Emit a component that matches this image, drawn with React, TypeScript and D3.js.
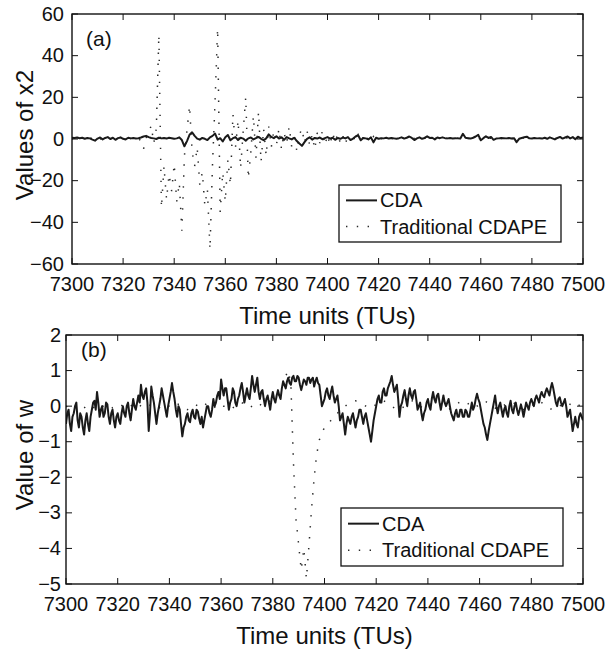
import React from 'react';
import * as d3 from 'd3';

// ---------- data ----------
const T_START = 7300; // first time unit
const STEP_A = 1; // TU between samples, panel (a) and CDAPE (b)
const STEP_B_CDA = 0.5; // TU between samples, CDA in panel (b)
const xTicks = [7300, 7320, 7340, 7360, 7380, 7400, 7420, 7440, 7460, 7480, 7500];
const yTicksA = [-60, -40, -20, 0, 20, 40, 60];
const yTicksB = [-5, -4, -3, -2, -1, 0, 1, 2];
const seriesNames = ['CDA', 'Traditional CDAPE'];

// Panel (a): values of x2 (one value per TU, 7300..7500)
const cdaA = [
  0.6, 0.5, 0.7, 0.4, 0.6, 0.1, 0.5, 0.3, -0.3, -0.8,
  0.2, 0.7, -0.2, 0.5, 0.9, 0.0, 0.6, -0.4, 0.4, 0.8,
  0.1, -0.2, 0.6, 0.3, 0.5, 0.2, 0.4, 0.7, 1.2, 1.5,
  0.9, 0.5, 0.3, 0.0, 0.6, 0.3, 0.5, 0.2, 0.6, 0.4,
  0.1, 0.3, 0.8, -0.5, -3.5, -1.0, 2.0, 3.2, 1.5, 0.2,
  -0.3, 0.5, 0.1, -0.5, 0.8, 1.5, 2.6, -0.3, 0.4, -1.2,
  0.8, 1.9, -0.6, 0.4, 0.9, -0.5, 0.6, 0.2, -0.8, 0.3,
  0.7, -0.2, 0.4, 1.0, 0.1, -0.6, 0.3, 2.2, 1.0, 0.4,
  1.3, 0.2, 0.8, -0.4, 0.9, 0.3, -0.2, 0.6, -1.0, -2.2,
  -3.3, -1.5, 0.1, 0.8, -0.3, 0.5, 0.2, 0.7, -0.1, 0.4,
  0.9, 0.2, 0.6, -0.4, 0.5, 0.1, 0.7, 0.3, 0.9, -0.5,
  0.2, 1.2, 1.8, -0.6, 0.5, 0.3, -0.2, 0.8, -1.6, 0.6,
  0.1, 0.4, 0.3, 0.6, 0.2, 0.5, 0.3, 0.1, 0.4, 0.8,
  0.2, 0.6, 1.2, 0.5, -0.5, 0.3, 0.8, 0.1, 0.5, 1.3,
  0.5, 0.6, -0.2, 0.7, 0.4, 0.8, 0.4, 0.3, 0.5, 0.2,
  0.4, 0.3, 0.2, 2.5, 0.6, 0.4, 0.2, 0.6, 1.2, 2.0,
  -0.6, 0.4, 1.3, 0.5, 1.0, -0.4, 0.2, 0.3, 0.5, 0.4,
  0.3, 0.5, 0.2, 0.4, -1.5, 0.1, 0.5, 0.8, 1.1, 0.3,
  0.2, 0.5, 0.3, 0.4, 0.2, 0.6, 0.1, 0.8, 0.3, -0.2,
  0.5, 1.0, 0.2, 0.7, 1.2, 0.3, 0.9, -0.1, 1.1, 0.4,
  0.8,
];
const cdapeA = [
  0.3, -0.4, 0.8, 0.2, 0.5, -0.6, 0.4, 0.1, 0.6, -0.3,
  0.5, 0.2, -0.4, 0.7, 0.3, 0.0, 0.5, -0.5, 0.3, 0.6,
  0.1, -0.3, 0.4, 0.2, 0.6, -0.2, 0.3, -1.0, -4.8, 0.5,
  3.0, 6.5, -2.0, 5.0, 50, -33, -13, -29, -17, -25,
  -12, -30, -21, -44, -8, 4, 16, -6, -13, -4,
  -22, -16, -32, -24, -53, -12, 18, 53, -35, -16,
  -30, -10, -22, 12, -4, 9, -14, 4, 20, -19,
  -6, 11, -9, 13, -11, 5, -8, 6, -4, 4,
  -3, 5, -5, 3, -2, 6, -4, 3, -6, 2,
  5, -2, 4, -3, 2, -5, 3, -2, 4, -3,
  2, -3, 3, -1.5, 2.5, -2, 1.5, -2.5, 2, -1,
  1.5, -1.5, 2, -1, 1, -1.5, 1, -0.8, 1.2, -0.5,
  0.4, 0.1, 0.5, 0.2, 0.4, 0.3, 0.2, 0.5, 0.1, 0.4,
  0.3, 0.5, 0.2, 0.4, 0.3, 0.2, 0.5, 0.3, 0.4, 0.2,
  0.5, 0.3, 0.2, 0.4, 0.5, 0.3, 0.4, 0.2, 0.3, 0.4,
  0.3, 0.4, 0.2, 0.5, 0.4, 0.3, 0.2, 0.4, 0.5, 0.3,
  0.2, 0.4, 0.5, 0.3, 0.4, 0.2, 0.3, 0.4, 0.3, 0.5,
  0.3, 0.4, 0.2, 0.3, 0.2, 0.3, 0.4, 0.5, 0.4, 0.3,
  0.2, 0.4, 0.3, 0.4, 0.3, 0.5, 0.2, 0.4, 0.3, 0.2,
  0.4, 0.5, 0.3, 0.4, 0.5, 0.3, 0.4, 0.2, 0.5, 0.4,
  0.4,
];

// Panel (b): value of w — CDA every 0.5 TU (7300..7500), one row = 10 TU
const cdaB = [
  -0.5, -0.2, -0.1, -0.5, -0.7, -0.3, -0.2, 0.0, 0.1, -0.4, -0.6, -0.2, -0.3, -0.6, -0.8, -0.4, -0.2, -0.5, -0.7, -0.3,
  -0.1, 0.1, 0.15, -0.1, 0.4, 0.1, -0.3, -0.1, 0.0, -0.3, -0.2, 0.1, 0.05, -0.3, -0.5, -0.2, -0.1, -0.4, -0.6, -0.3,
  -0.2, -0.4, -0.5, -0.2, 0.0, -0.2, -0.3, 0.0, 0.1, -0.2, -0.4, -0.1, 0.2, 0.0, -0.1, 0.1, 0.3, 0.1, 0.6, 0.3,
  0.2, 0.4, 0.5, 0.1, -0.7, -0.2, 0.55, 0.3, 0.1, -0.2, -0.5, -0.2, 0.0, 0.2, 0.5, 0.3, 0.1, -0.1, -0.3, 0.0,
  0.2, 0.4, 0.65, 0.4, 0.2, -0.1, -0.3, 0.0, -0.1, -0.5, -0.85, -0.6, -0.5, -0.3, -0.2, -0.4, -0.45, -0.2, -0.1, -0.3,
  -0.35, -0.1, -0.15, -0.35, -0.5, -0.3, -0.6, -0.4, -0.2, 0.0, 0.0, -0.2, -0.3, -0.1, 0.2, 0.0, 0.1, 0.3, 0.4, 0.2,
  0.75, 0.5, 0.3, 0.5, 0.5, 0.2, -0.1, 0.1, 0.2, 0.5, 0.4, 0.1, 0.0, 0.2, 0.3, 0.5, 0.65, 0.4, 0.1, 0.3,
  0.5, 0.3, 0.2, 0.5, 0.85, 0.6, 0.4, 0.6, 0.8, 0.4, 0.2, 0.4, 0.45, 0.2, 0.0, 0.2, 0.3, 0.1, -0.1, 0.2,
  0.4, 0.2, 0.1, 0.3, 0.45, 0.3, 0.2, 0.5, 0.7, 0.6, 0.5, 0.7, 0.8, 0.65, 0.6, 0.8, 0.85, 0.7, 0.7, 0.85,
  0.8, 0.6, 0.45, 0.6, 0.75, 0.7, 0.6, 0.8, 0.8, 0.65, 0.75, 0.8, 0.55, 0.7, 0.8, 0.65, 0.6, 0.3, 0.0, 0.1,
  0.2, 0.4, 0.5, 0.3, 0.2, 0.4, 0.55, 0.3, 0.1, 0.2, 0.3, 0.0, -0.4, -0.3, -0.2, -0.5, -0.8, -0.5, -0.3, -0.4,
  -0.5, -0.3, -0.2, -0.4, -0.6, -0.4, -0.3, -0.1, -0.1, -0.3, -0.5, -0.3, -0.2, -0.4, -0.6, -0.8, -1.0, -0.7, -0.4, -0.2,
  0.0, 0.2, 0.3, 0.1, 0.1, 0.4, 0.5, 0.3, 0.3, 0.5, 0.6, 0.7, 0.85, 0.6, 0.4, 0.5, 0.6, 0.2, -0.3, 0.0,
  0.1, 0.3, 0.45, 0.2, 0.0, 0.3, 0.5, 0.3, 0.2, 0.4, 0.45, 0.2, -0.1, 0.0, 0.1, -0.2, -0.4, -0.2, -0.1, 0.1,
  0.2, 0.0, -0.1, 0.2, 0.4, 0.2, 0.1, 0.3, 0.35, 0.1, -0.1, 0.1, 0.3, 0.1, 0.0, 0.1, 0.2, 0.0, -0.2, -0.3,
  -0.4, -0.2, -0.1, -0.3, -0.3, -0.1, -0.1, -0.3, -0.3, -0.1, -0.15, -0.3, -0.3, -0.1, 0.1, -0.1, 0.0, 0.2, 0.35, 0.2,
  0.1, -0.1, -0.3, -0.5, -0.6, -0.8, -0.95, -0.7, -0.5, -0.3, -0.1, 0.1, 0.3, 0.0, -0.2, 0.0, 0.1, -0.1, -0.3, -0.1,
  0.0, -0.2, -0.3, 0.0, 0.15, -0.1, -0.2, 0.0, 0.1, -0.1, -0.25, -0.1, 0.05, -0.1, -0.3, -0.1, 0.1, 0.0, -0.1, 0.1,
  0.2, 0.1, 0.0, 0.2, 0.3, 0.2, 0.1, 0.3, 0.4, 0.3, 0.25, 0.4, 0.5, 0.4, 0.3, 0.5, 0.65, 0.5, 0.3, 0.1,
  0.0, 0.2, 0.25, 0.1, 0.0, 0.1, 0.2, 0.0, -0.3, -0.2, -0.1, -0.4, -0.7, -0.5, -0.3, -0.5, -0.6, -0.3, -0.2, -0.3,
  -0.4,
];
// CDAPE in panel (b): one value per TU
const cdapeB = [
  0.0, -0.05, -0.1, -0.05, 0.0, 0.05, 0.0, -0.05, 0.0, 0.05,
  0.0, -0.05, -0.1, -0.05, 0.0, 0.0, 0.05, 0.0, -0.05, 0.0,
  0.05, 0.05, 0.0, -0.05, -0.05, 0.0, 0.05, 0.1, 0.05, 0.0,
  -0.05, 0.0, 0.0, 0.05, 0.0, -0.05, -0.05, 0.0, 0.05, 0.0,
  0.0, -0.05, 0.0, 0.05, 0.05, 0.0, -0.05, -0.1, -0.05, 0.0,
  0.05, 0.0, -0.05, 0.0, 0.05, 0.1, 0.05, 0.0, -0.05, 0.0,
  0.05, 0.0, 0.0, 0.05, 0.0, -0.05, 0.0, 0.05, 0.1, 0.05,
  0.0, -0.05, 0.0, 0.05, 0.1, 0.05, 0.0, 0.05, 0.1, 0.15,
  0.2, 0.25, 0.3, 0.4, 0.6, 0.85, 1.0, 0.6, -1.6, -3.2,
  -3.9, -4.6, -4.0, -4.85, -3.9, -2.9, -2.0, -1.35, -0.95, -0.75,
  -0.6, -0.5, -0.45, -0.35, -0.25, -0.2, -0.12, -0.05, 0.0, 0.05,
  0.1, 0.12, 0.15, 0.12, 0.1, 0.05, 0.0, -0.05, -0.05, 0.0,
  0.05, 0.1, 0.15, 0.15, 0.1, 0.05, 0.0, -0.05, -0.1, -0.1,
  -0.05, 0.0, 0.05, 0.1, 0.15, 0.1, 0.05, 0.0, -0.05, -0.05,
  0.0, 0.05, 0.1, 0.12, 0.1, 0.05, 0.0, -0.05, -0.1, -0.05,
  0.0, 0.05, 0.1, 0.15, 0.15, 0.1, 0.05, 0.0, -0.05, 0.0,
  0.05, 0.1, 0.15, 0.1, 0.05, 0.0, -0.05, -0.1, -0.05, 0.0,
  0.05, 0.1, 0.12, 0.1, 0.05, 0.0, -0.05, -0.1, -0.1, -0.05,
  0.0, 0.05, 0.1, 0.15, 0.1, 0.05, 0.0, -0.05, -0.1, -0.1,
  -0.05, 0.0, 0.05, 0.1, 0.1, 0.05, 0.0, -0.05, 0.0, 0.05,
  0.1,
];

// ---------- drawing ----------
const FONT = '"Liberation Sans", Arial, Helvetica, sans-serif';
const MINUS = '\u2212';
const DOTS = '1.4 9.6';

type PanelProps = {
  id: string;
  left: number; right: number; top: number; bottom: number;
  yDomain: [number, number];
  yTicks: number[];
  cda: number[];
  cdaStep: number;
  cdape: number[];
  cdapeStep: number;
  letter: string;
  letterPos: [number, number];
  ylabel: string;
  ylabelPos: [number, number];
  ytickGap: number;
  legend: { x: number; y: number; w: number; h: number };
};

function fmt(v: number) {
  return v < 0 ? MINUS + Math.abs(v) : String(v);
}

function Panel(p: PanelProps) {
  const x = d3.scaleLinear().domain([7300, 7500]).range([p.left, p.right]);
  const y = d3.scaleLinear().domain(p.yDomain).range([p.bottom, p.top]);
  const lineFor = (step: number) =>
    d3
      .line<number>()
      .x((_, i) => x(T_START + i * step))
      .y((d) => y(d));
  const tick = 6;
  const lg = p.legend;
  const row1 = lg.y + lg.h * 0.27;
  const row2 = lg.y + lg.h * 0.73;
  return (
    <g>
      <clipPath id={p.id}>
        <rect x={p.left} y={p.top} width={p.right - p.left} height={p.bottom - p.top} />
      </clipPath>
      <rect x={p.left} y={p.top} width={p.right - p.left} height={p.bottom - p.top} fill="#fff" />
      <g clipPath={`url(#${p.id})`}>
        <path d={lineFor(p.cdapeStep)(p.cdape) || ''} fill="none" stroke="#2a2a2a" strokeWidth={1.5} strokeDasharray={DOTS} />
        <path d={lineFor(p.cdaStep)(p.cda) || ''} fill="none" stroke="#1a1a1a" strokeWidth={2} strokeLinejoin="round" />
      </g>
      {xTicks.map((t) => (
        <g key={'x' + t}>
          <line x1={x(t)} x2={x(t)} y1={p.bottom} y2={p.bottom - tick} stroke="#111" strokeWidth={1} />
          <line x1={x(t)} x2={x(t)} y1={p.top} y2={p.top + tick} stroke="#111" strokeWidth={1} />
          <text x={x(t)} y={p.bottom + 27} textAnchor="middle" fontSize={20} fill="#111">
            {t}
          </text>
        </g>
      ))}
      {p.yTicks.map((v) => (
        <g key={'y' + v}>
          <line x1={p.left} x2={p.left + tick} y1={y(v)} y2={y(v)} stroke="#111" strokeWidth={1} />
          <line x1={p.right} x2={p.right - tick} y1={y(v)} y2={y(v)} stroke="#111" strokeWidth={1} />
          <text x={p.left - p.ytickGap} y={y(v) + 6.5} textAnchor="end" fontSize={20} fill="#111">
            {fmt(v)}
          </text>
        </g>
      ))}
      <rect x={p.left} y={p.top} width={p.right - p.left} height={p.bottom - p.top} fill="none" stroke="#111" strokeWidth={1.4} />
      <text x={p.letterPos[0]} y={p.letterPos[1]} fontSize={21} fill="#111">
        {p.letter}
      </text>
      <text x={(p.left + p.right) / 2} y={p.bottom + 60} textAnchor="middle" fontSize={24} fill="#111">
        Time units (TUs)
      </text>
      <text
        transform={`translate(${p.ylabelPos[0]},${p.ylabelPos[1]}) rotate(-90)`}
        textAnchor="middle"
        fontSize={24}
        fill="#111"
      >
        {p.ylabel}
      </text>
      <rect x={lg.x} y={lg.y} width={lg.w} height={lg.h} fill="#fff" stroke="#111" strokeWidth={1.3} />
      <line x1={lg.x + 7} x2={lg.x + 38} y1={row1} y2={row1} stroke="#1a1a1a" strokeWidth={2} />
      <text x={lg.x + 41} y={row1 + 7} fontSize={20} fill="#111">
        {seriesNames[0]}
      </text>
      <line x1={lg.x + 7} x2={lg.x + 38} y1={row2} y2={row2} stroke="#2a2a2a" strokeWidth={1.5} strokeDasharray="1.4 9.4" />
      <text x={lg.x + 41} y={row2 + 7} fontSize={20} fill="#111">
        {seriesNames[1]}
      </text>
    </g>
  );
}

export default function App() {
  return (
    <svg
      width={615}
      height={650}
      style={{ position: 'absolute', left: 0, top: 0, background: '#fff', fontFamily: FONT }}
    >
      <rect x={0} y={0} width={615} height={650} fill="#fff" />
      <Panel
        id="clipA"
        left={72}
        right={583}
        top={14}
        bottom={264}
        yDomain={[-60, 60]}
        yTicks={yTicksA}
        cda={cdaA}
        cdaStep={STEP_A}
        cdape={cdapeA}
        cdapeStep={STEP_A}
        letter="(a)"
        letterPos={[86, 46]}
        ylabel="Values of x2"
        ylabelPos={[33, 135]}
        ytickGap={8}
        legend={{ x: 339, y: 185, w: 222, h: 57 }}
      />
      <Panel
        id="clipB"
        left={66}
        right={583}
        top={335}
        bottom={584}
        yDomain={[-5, 2]}
        yTicks={yTicksB}
        cda={cdaB}
        cdaStep={STEP_B_CDA}
        cdape={cdapeB}
        cdapeStep={STEP_A}
        letter="(b)"
        letterPos={[81, 357]}
        ylabel="Value of w"
        ylabelPos={[33, 455]}
        ytickGap={5}
        legend={{ x: 341, y: 508, w: 222, h: 58 }}
      />
    </svg>
  );
}
